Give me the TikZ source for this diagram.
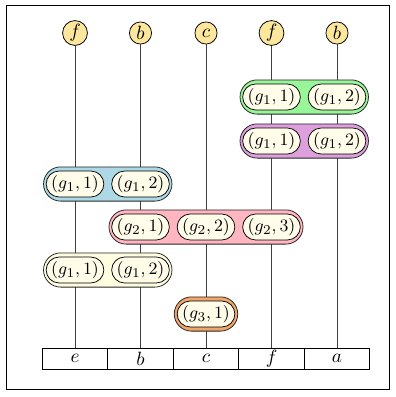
\documentclass[tikz,border=0pt]{standalone}
\usetikzlibrary{positioning}
\definecolor{topfill}{HTML}{FCE79C}
\definecolor{pillfill}{HTML}{FFFDEA}
\definecolor{cgreen}{HTML}{98F598}
\definecolor{cpurple}{HTML}{DDA0DD}
\definecolor{cblue}{HTML}{ADD8E6}
\definecolor{cpink}{HTML}{FFB6C1}
\definecolor{cyell}{HTML}{FFFDE0}
\definecolor{corange}{HTML}{F2A66A}
\tikzset{
  topnode/.style={circle,draw,fill=topfill,minimum size=11.5pt,inner sep=0.8pt},
  boxnode/.style={rectangle,draw,minimum width=34.06pt,minimum height=10.9pt,inner sep=0pt},
  inpill/.style={rectangle,draw,fill=pillfill,rounded corners=6.75pt,minimum width=30pt,minimum height=13.5pt,inner sep=0.5pt,font=\fontsize{9.5}{11}\selectfont},
  outpill/.style={rectangle,draw=black!85,rounded corners=8.9pt,minimum height=17.8pt,inner sep=0pt},
  colline/.style={draw,black!75,line width=0.4pt},
}
\begin{document}
\begin{tikzpicture}[x=0.52pt,y=-0.52pt]
\useasboundingbox (0,0) rectangle (396,397);
\draw[line width=0.45pt] (6,5) rectangle (389,389) coordinate (frame);
% top nodes
\node[topnode] (t1) at (75,33) {$f$};
\node[topnode] (t2) at (140.5,33) {$b$};
\node[topnode] (t3) at (206,33) {$c$};
\node[topnode] (t4) at (271.5,33) {$f$};
\node[topnode] (t5) at (337,33) {$b$};
% bottom boxes
\node[boxnode] (b1) at (75,358.5) {$e$};
\node[boxnode] (b2) at (140.5,358.5) {$b$};
\node[boxnode] (b3) at (206,358.5) {$c$};
\node[boxnode] (b4) at (271.5,358.5) {$f$};
\node[boxnode] (b5) at (337,358.5) {$a$};
% column lines
\draw[colline] (t1) -- (b1);
\draw[colline] (t2) -- (b2);
\draw[colline] (t3) -- (b3);
\draw[colline] (t4) -- (b4);
\draw[colline] (t5) -- (b5);
% green
\node[outpill,fill=cgreen,minimum width=66.8pt] (og) at (304.25,97) {};
\node[inpill] (g11a) at (271.5,97) {$(g_1,1)$};
\node[inpill] (g12a) at (337,97) {$(g_1,2)$};
% purple
\node[outpill,fill=cpurple,minimum width=66.8pt] (op) at (304.25,141) {};
\node[inpill] (g11b) at (271.5,141) {$(g_1,1)$};
\node[inpill] (g12b) at (337,141) {$(g_1,2)$};
% blue
\node[outpill,fill=cblue,minimum width=66.8pt] (ob) at (107.75,184) {};
\node[inpill] (g11c) at (75,184) {$(g_1,1)$};
\node[inpill] (g12c) at (140.5,184) {$(g_1,2)$};
% pink
\node[outpill,fill=cpink,minimum width=100.9pt] (opk) at (206,227) {};
\node[inpill] (g21) at (140.5,227) {$(g_2,1)$};
\node[inpill] (g22) at (206,227) {$(g_2,2)$};
\node[inpill] (g23) at (271.5,227) {$(g_2,3)$};
% light yellow
\node[outpill,fill=cyell,minimum width=66.8pt] (oy) at (107.75,270) {};
\node[inpill] (g11d) at (75,270) {$(g_1,1)$};
\node[inpill] (g12d) at (140.5,270) {$(g_1,2)$};
% orange
\node[outpill,fill=corange,minimum width=33pt] (oo) at (206,314) {};
\node[inpill] (g31) at (206,314) {$(g_3,1)$};
\end{tikzpicture}
\end{document}
